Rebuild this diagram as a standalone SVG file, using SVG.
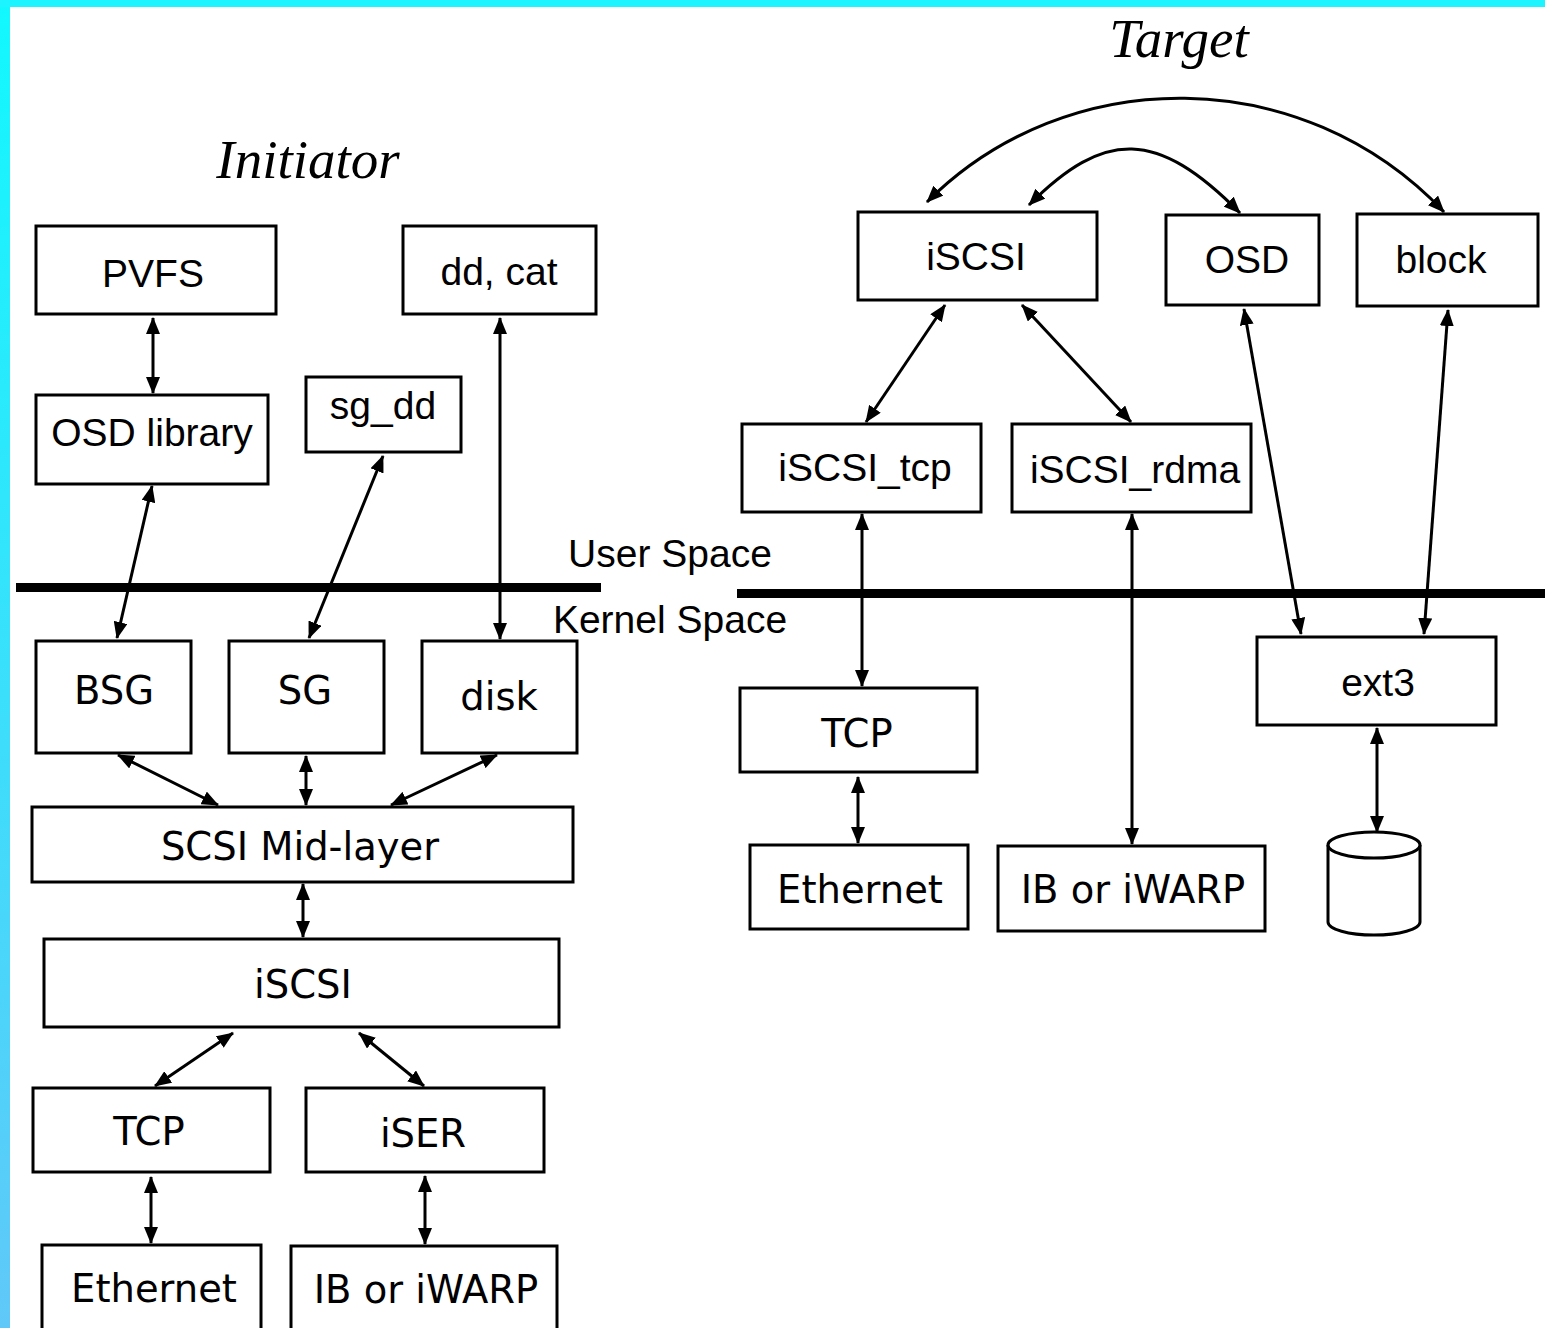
<svg xmlns="http://www.w3.org/2000/svg" width="1545" height="1328" viewBox="0 0 1545 1328">
<defs>
<linearGradient id="bg" x1="0" y1="0" x2="0" y2="1328" gradientUnits="userSpaceOnUse">
<stop offset="0" stop-color="#12f8ff"/>
<stop offset="1" stop-color="#60c8f8"/>
</linearGradient>
<marker id="a" viewBox="0 0 17 14" refX="16" refY="7" markerWidth="17" markerHeight="14" markerUnits="userSpaceOnUse" orient="auto-start-reverse">
<path d="M0,0 L17,7 L0,14 z" fill="#000"/>
</marker>
<style>
.box{fill:#fff;stroke:#000;stroke-width:3}
.ls{font-family:"Liberation Sans",Arial,sans-serif;font-size:39px;fill:#000;text-anchor:middle}
.dv{font-family:"DejaVu Sans",sans-serif;font-size:38.5px;fill:#000;text-anchor:middle}
.title{font-family:"Liberation Serif","Times New Roman",serif;font-style:italic;font-size:55px;fill:#000;text-anchor:middle}
.c{fill:none;stroke:#000;stroke-width:3;marker-start:url(#a);marker-end:url(#a)}
</style>
</defs>
<rect x="0" y="0" width="1545" height="1328" fill="url(#bg)"/>
<rect x="0" y="0" width="1545" height="7" fill="#1cf4ff"/>
<rect x="10" y="7" width="1535" height="1321" fill="#fff"/>

<text class="title" x="308" y="178">Initiator</text>
<text class="title" x="1179" y="57">Target</text>

<g id="space-divider">
<rect x="16" y="583" width="585" height="9" fill="#000"/>
<rect x="737" y="589" width="808" height="9" fill="#000"/>
<text class="ls" x="670" y="567">User Space</text>
<text class="ls" x="670" y="633">Kernel Space</text>
</g>

<g id="pvfs"><rect class="box" x="36" y="226" width="240" height="88"/><text class="ls" x="153" y="287">PVFS</text></g>
<g id="ddcat"><rect class="box" x="403" y="226" width="193" height="88"/><text class="ls" x="499" y="285">dd, cat</text></g>
<g id="osdlib"><rect class="box" x="36" y="395" width="232" height="89"/><text class="ls" x="152" y="446">OSD library</text></g>
<g id="sgdd"><rect class="box" x="306" y="377" width="155" height="75"/><text class="ls" x="383" y="419">sg_dd</text></g>
<g id="bsg"><rect class="box" x="36" y="641" width="155" height="112"/><text class="dv" x="114" y="704">BSG</text></g>
<g id="sg"><rect class="box" x="229" y="641" width="155" height="112"/><text class="dv" x="305" y="704">SG</text></g>
<g id="disk"><rect class="box" x="422" y="641" width="155" height="112"/><text class="dv" x="499" y="710">disk</text></g>
<g id="midlayer"><rect class="box" x="32" y="807" width="541" height="75"/><text class="dv" x="300" y="860">SCSI Mid-layer</text></g>
<g id="iscsi-i"><rect class="box" x="44" y="939" width="515" height="88"/><text class="dv" x="303" y="998">iSCSI</text></g>
<g id="tcp-i"><rect class="box" x="33" y="1088" width="237" height="84"/><text class="dv" x="149" y="1145">TCP</text></g>
<g id="iser"><rect class="box" x="306" y="1088" width="238" height="84"/><text class="dv" x="423" y="1147">iSER</text></g>
<g id="eth-i"><rect class="box" x="42" y="1245" width="219" height="90"/><text class="dv" x="154" y="1302">Ethernet</text></g>
<g id="ib-i"><rect class="box" x="291" y="1246" width="266" height="90"/><text class="dv" x="426" y="1303">IB or iWARP</text></g>

<g id="iscsi-t"><rect class="box" x="858" y="212" width="239" height="88"/><text class="ls" x="976" y="270">iSCSI</text></g>
<g id="osd"><rect class="box" x="1166" y="215" width="153" height="90"/><text class="ls" x="1247" y="273">OSD</text></g>
<g id="block"><rect class="box" x="1357" y="214" width="181" height="92"/><text class="ls" x="1441" y="273">block</text></g>
<g id="iscsitcp"><rect class="box" x="742" y="424" width="239" height="88"/><text class="ls" x="865" y="481">iSCSI_tcp</text></g>
<g id="iscsirdma"><rect class="box" x="1012" y="424" width="239" height="88"/><text class="ls" x="1135" y="483">iSCSI_rdma</text></g>
<g id="ext3"><rect class="box" x="1257" y="637" width="239" height="88"/><text class="ls" x="1378" y="696">ext3</text></g>
<g id="tcp-t"><rect class="box" x="740" y="688" width="237" height="84"/><text class="dv" x="857" y="747">TCP</text></g>
<g id="eth-t"><rect class="box" x="750" y="845" width="218" height="84"/><text class="dv" x="860" y="903">Ethernet</text></g>
<g id="ib-t"><rect class="box" x="998" y="846" width="267" height="85"/><text class="dv" x="1133" y="903">IB or iWARP</text></g>
<g id="disk-store">
<path d="M1328,845 L1328,922 A46,13 0 0 0 1420,922 L1420,845" fill="#fff" stroke="#000" stroke-width="3"/>
<ellipse cx="1374" cy="845" rx="46" ry="13" fill="#fff" stroke="#000" stroke-width="3"/>
</g>

<g id="connectors">
<path class="c" d="M153,318 L153,393"/>
<path class="c" d="M500,318 L500,639"/>
<path class="c" d="M152,486 L117,638"/>
<path class="c" d="M383,456 L309,638"/>
<path class="c" d="M118,755 L218,805"/>
<path class="c" d="M306,756 L306,805"/>
<path class="c" d="M497,755 L391,805"/>
<path class="c" d="M303,884 L303,937"/>
<path class="c" d="M233,1033 L155,1086"/>
<path class="c" d="M359,1033 L424,1086"/>
<path class="c" d="M151,1177 L151,1243"/>
<path class="c" d="M425,1176 L425,1244"/>
<path class="c" d="M945,305 L866,422"/>
<path class="c" d="M1022,305 L1131,422"/>
<path class="c" d="M862,514 L862,686"/>
<path class="c" d="M1132,514 L1132,844"/>
<path class="c" d="M1244,309 L1301,634"/>
<path class="c" d="M1448,310 L1424,634"/>
<path class="c" d="M1377,728 L1377,832"/>
<path class="c" d="M858,777 L858,843"/>
<path class="c" d="M927,202 C1067,62 1302,62 1444,212"/>
<path class="c" d="M1029,205 C1105,129 1157,129 1240,213"/>
</g>
</svg>
